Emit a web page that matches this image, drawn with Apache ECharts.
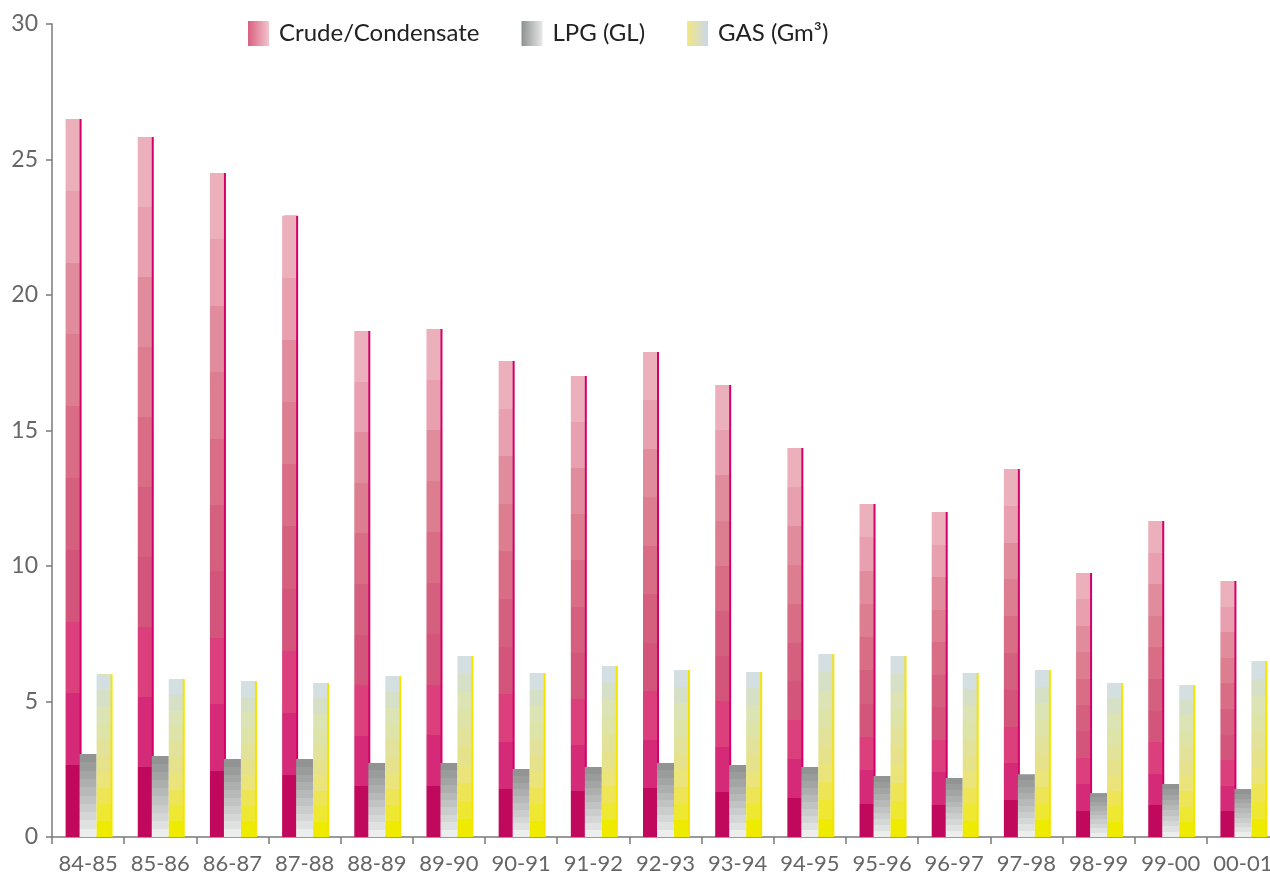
<!DOCTYPE html>
<html>
<head>
<meta charset="utf-8">
<script src="https://cdn.jsdelivr.net/npm/echarts@6/dist/echarts.min.js"></script>
<style>
  html, body { margin: 0; padding: 0; background: #fff; overflow: hidden; }
  #chart { width: 1280px; height: 878px; }
</style>
</head>
<body>
<div id="chart"></div>
<script>
// data
var years = ['84-85', '85-86', '86-87', '87-88', '88-89', '89-90', '90-91', '91-92', '92-93',
  '93-94', '94-95', '95-96', '96-97', '97-98', '98-99', '99-00', '00-01'];
var crude = [26.49, 25.83, 24.50, 22.92, 18.67, 18.75, 17.56, 17.01, 17.90,
  16.68, 14.35, 12.29, 11.99, 13.58, 9.74, 11.66, 9.45];
var lpg = [3.06, 2.99, 2.88, 2.88, 2.73, 2.73, 2.51, 2.58, 2.73,
  2.66, 2.58, 2.25, 2.18, 2.32, 1.62, 1.96, 1.77];
var gas = [6.01, 5.83, 5.76, 5.68, 5.94, 6.68, 6.05, 6.31, 6.16,
  6.09, 6.75, 6.68, 6.05, 6.16, 5.68, 5.61, 6.49];
var yTicks = [0, 5, 10, 15, 20, 25, 30];

// band colours, bottom to top
var crudeBands = ['#c0085c', '#d52a77', '#db3f7c', '#d4557c', '#d45f7e', '#d86d85', '#dc7e90', '#e08c9c', '#e89fb0', '#ecb0bc'];
var lpgBands = ['#eceeed', '#e0e2e1', '#d5d7d6', '#cbcdcc', '#c1c3c2', '#b7b9b8', '#adafae', '#a3a5a4', '#9a9c9b', '#919493'];
var gasBands = ['#eeea00', '#eee832', '#ede556', '#eae47a', '#e6e28c', '#e2e29a', '#dee3a8', '#dce4b6', '#d6e0c6', '#d3dfe0'];

function bands(cols) {
  var stops = [];
  var n = cols.length;
  for (var i = 0; i < n; i++) {
    stops.push({offset: i / n, color: cols[i]});
    stops.push({offset: (i + 1) / n, color: cols[i]});
  }
  return new echarts.graphic.LinearGradient(0, 1, 0, 0, stops);
}
function hgrad(a, b) {
  return new echarts.graphic.LinearGradient(0, 0, 1, 0, [{offset: 0, color: a}, {offset: 1, color: b}]);
}

var chart = echarts.init(document.getElementById('chart'));
var font = 'Lato, "Noto Sans", sans-serif';

chart.setOption({
  animation: false,
  backgroundColor: '#fff',
  textStyle: {fontFamily: font},
  // plot runs a little past the right edge of the window, as in the original
  grid: {left: 52, top: 24, right: 1, bottom: 41, containLabel: false},
  legend: {
    top: 16,
    left: 243,
    icon: 'rect',
    itemWidth: 21,
    itemHeight: 25,
    itemGap: 42,
    textStyle: {fontSize: 24, color: '#222', fontFamily: font, padding: [0, 0, 0, 5]},
    data: [
      {name: 'Crude/Condensate', itemStyle: {color: hgrad('#d9607f', '#f2c4ce')}},
      {name: 'LPG (GL)', itemStyle: {color: hgrad('#8c918f', '#e8e9e8')}},
      {name: 'GAS (Gm³)', itemStyle: {color: hgrad('#f2e680', '#c8d8ec')}}
    ]
  },
  xAxis: {
    type: 'category',
    data: years,
    axisLine: {lineStyle: {color: '#7a7a7a', width: 1.5}},
    axisTick: {show: true, length: 7, lineStyle: {color: '#7a7a7a', width: 1.5}},
    axisLabel: {fontSize: 22, color: '#666', margin: 16, interval: 0, fontFamily: font}
  },
  yAxis: {
    type: 'value',
    min: yTicks[0],
    max: yTicks[yTicks.length - 1],
    interval: 5,
    splitLine: {show: false},
    axisLine: {show: true, lineStyle: {color: '#7a7a7a', width: 1.5}},
    axisTick: {show: true, length: 6, lineStyle: {color: '#7a7a7a', width: 1.5}},
    axisLabel: {fontSize: 23, color: '#666', margin: 14, fontFamily: font}
  },
  series: [
    {
      name: 'Crude/Condensate',
      type: 'bar',
      data: crude,
      barWidth: 14,
      barGap: '14%',
      itemStyle: {color: bands(crudeBands), shadowColor: '#d4006a', shadowOffsetX: 2, shadowBlur: 0}
    },
    {
      name: 'LPG (GL)',
      type: 'bar',
      data: lpg,
      barWidth: 17,
      barGap: '0%',
      itemStyle: {color: bands(lpgBands)}
    },
    {
      name: 'GAS (Gm³)',
      type: 'bar',
      data: gas,
      barWidth: 14,
      barGap: '0%',
      itemStyle: {color: bands(gasBands), shadowColor: '#f4e400', shadowOffsetX: 2, shadowBlur: 0}
    }
  ]
});
</script>
</body>
</html>
